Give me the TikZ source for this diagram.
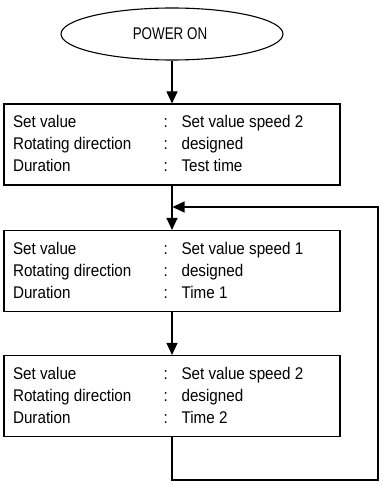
\documentclass[tikz,border=0pt]{standalone}
\usepackage{fontspec}
\setmainfont[FakeStretch=0.9]{Liberation Sans}
\usetikzlibrary{arrows.meta,shapes.geometric}
\begin{document}
\begin{tikzpicture}[x=1bp,y=-1bp,line width=1.1bp,
  box/.style={draw,rectangle,minimum width=336bp,minimum height=81bp,inner sep=0pt},
  oval/.style={draw,ellipse,minimum width=222bp,minimum height=52bp,inner sep=0pt},
  txt/.style={anchor=base west,inner sep=0pt,font=\fontsize{16.9bp}{20bp}\selectfont},
  ctxt/.style={txt,anchor=base},
  flow/.style={-{Triangle[width=11bp,length=12bp]}}]
\useasboundingbox (0,0) rectangle (382,489);
% start
\node[oval] (start) at (172,34) {};
\node[ctxt] (starttxt) at (170,40) {\scalebox{0.88}[1]{POWER ON}};
% boxes
\node[box] (b1) at (172,144.5) {};
\node[box] (b2) at (172,271) {};
\node[box] (b3) at (172,396) {};
% box 1 text
\node[txt] (a1) at (12.5,128) {Set value};
\node[txt] (a2) at (12.5,150) {Rotating direction};
\node[txt] (a3) at (12.5,172) {Duration};
\node[txt] (c1) at (163,128) {:};
\node[txt] (c2) at (163,150) {:};
\node[txt] (c3) at (163,172) {:};
\node[txt] (v1) at (181,128) {Set value speed 2};
\node[txt] (v2) at (181,150) {designed};
\node[txt] (v3) at (181,172) {Test time};
% box 2 text
\node[txt] (d1) at (12.5,254.5) {Set value};
\node[txt] (d2) at (12.5,276.5) {Rotating direction};
\node[txt] (d3) at (12.5,298.5) {Duration};
\node[txt] (e1) at (163,254.5) {:};
\node[txt] (e2) at (163,276.5) {:};
\node[txt] (e3) at (163,298.5) {:};
\node[txt] (w1) at (181,254.5) {Set value speed 1};
\node[txt] (w2) at (181,276.5) {designed};
\node[txt] (w3) at (181,298.5) {Time 1};
% box 3 text
\node[txt] (f1) at (12.5,379.5) {Set value};
\node[txt] (f2) at (12.5,401.5) {Rotating direction};
\node[txt] (f3) at (12.5,423.5) {Duration};
\node[txt] (g1) at (163,379.5) {:};
\node[txt] (g2) at (163,401.5) {:};
\node[txt] (g3) at (163,423.5) {:};
\node[txt] (u1) at (181,379.5) {Set value speed 2};
\node[txt] (u2) at (181,401.5) {designed};
\node[txt] (u3) at (181,423.5) {Time 2};
% connectors
\draw[flow] (start.south) -- (b1.north);
\draw[flow] (b1.south) -- (b2.north);
\draw[flow] (b2.south) -- (b3.north);
\coordinate (loopR) at (378,480);
\coordinate (join) at (172.5,207);
\draw[flow] (b3.south) |- (loopR) |- (join);
\end{tikzpicture}
\end{document}
